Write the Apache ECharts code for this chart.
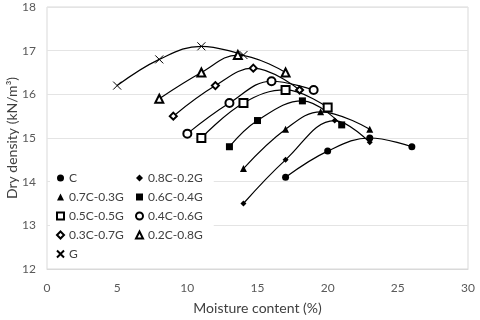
<!DOCTYPE html>
<html style="height:100%;width:100%;">
<head>
  <meta charset="utf-8">
  <title>Dry density vs moisture content</title>
  <script src="https://cdn.jsdelivr.net/npm/echarts@6/dist/echarts.min.js"></script>
</head>
<body style="margin:0px;height:100%;width:100%;">
  <div id="main" style="width:480px;height:320px"></div>
  <script type="text/javascript">
    // moisture content (%) and dry density (kN/m3), one pair of arrays per mix
    var names = ['C', '0.8C-0.2G', '0.7C-0.3G', '0.6C-0.4G', '0.5C-0.5G',
                 '0.4C-0.6G', '0.3C-0.7G', '0.2C-0.8G', 'G'];
    var xC = [17, 20, 23, 26],        yC = [14.1, 14.7, 15.0, 14.8];
    var x82 = [14, 17, 20.5, 23],     y82 = [13.5, 14.5, 15.4, 14.9];
    var x73 = [14, 17, 19.5, 23],     y73 = [14.3, 15.2, 15.6, 15.2];
    var x64 = [13, 15, 18.2, 21],     y64 = [14.8, 15.4, 15.85, 15.3];
    var x55 = [11, 14, 17, 20],       y55 = [15.0, 15.8, 16.1, 15.7];
    var x46 = [10, 13, 16, 19],       y46 = [15.1, 15.8, 16.3, 16.1];
    var x37 = [9, 12, 14.7, 18],      y37 = [15.5, 16.2, 16.6, 16.1];
    var x28 = [8, 11, 13.6, 17],      y28 = [15.9, 16.5, 16.9, 16.5];
    var xG = [5, 8, 11, 14],          yG = [16.2, 16.8, 17.1, 16.9];

    var xs = [xC, x82, x73, x64, x55, x46, x37, x28, xG];
    var ys = [yC, y82, y73, y64, y55, y46, y37, y28, yG];

    var cross = 'path://M0,0L10,10M10,0L0,10';
    var symbols = ['circle', 'diamond', 'triangle', 'rect', 'emptyRect',
                   'emptyCircle', 'emptyDiamond', 'emptyTriangle', cross];
    var sizes = [7, 6, 7, 7, 8, 8, 7, 8, 8];
    var filled = [true, true, true, true, false, false, false, false, false];

    function pairs(a, b) {
      var res = [];
      for (var i = 0; i < a.length; i++) res.push([a[i], b[i]]);
      return res;
    }

    var series = [];
    for (var i = 0; i < names.length; i++) {
      series.push({
        name: names[i],
        type: 'line',
        smooth: 0.4,
        symbol: symbols[i],
        symbolSize: sizes[i],
        showAllSymbol: true,
        lineStyle: { color: '#000', width: 1.2 },
        itemStyle: {
          color: '#000',
          borderColor: '#000',
          borderWidth: filled[i] ? 0 : 1
        },
        emphasis: { disabled: true },
        data: pairs(xs[i], ys[i])
      });
    }

    var fontFamily = 'Lato';
    var legendText = { color: '#404040', fontSize: 12, fontFamily: fontFamily };

    function legendData(list) {
      return list.map(function (n) {
        return { name: n, icon: symbols[names.indexOf(n)] };
      });
    }

    var myChart = echarts.init(document.getElementById('main'));
    var option = {
      animation: false,
      backgroundColor: '#fff',
      grid: {
        left: 47, right: 12, top: 7, bottom: 51,
        outerBoundsMode: 'none',
        show: true, borderColor: '#d9d9d9', borderWidth: 1
      },
      legend: [{
        orient: 'vertical',
        left: 50, top: 168,
        padding: [4, 90, 3, 6],
        backgroundColor: '#fff',
        itemWidth: 7, itemHeight: 7, itemGap: 7,
        textStyle: legendText,
        data: legendData(['C', '0.7C-0.3G', '0.5C-0.5G', '0.3C-0.7G', 'G'])
      }, {
        orient: 'vertical',
        left: 131, top: 168,
        padding: [4, 4, 3, 4],
        z: 5,
        itemWidth: 7, itemHeight: 7, itemGap: 7,
        textStyle: legendText,
        data: legendData(['0.8C-0.2G', '0.6C-0.4G', '0.4C-0.6G', '0.2C-0.8G'])
      }],
      xAxis: {
        type: 'value',
        min: 0, max: 30, interval: 5,
        name: 'Moisture content (%)',
        nameLocation: 'middle',
        nameGap: 32,
        nameMoveOverlap: false,
        nameTextStyle: { color: '#404040', fontSize: 14, fontFamily: fontFamily },
        axisLine: { show: true, lineStyle: { color: '#d9d9d9' } },
        axisTick: { show: false },
        axisLabel: { color: '#595959', fontSize: 12, fontFamily: fontFamily, margin: 13 },
        splitLine: { show: false }
      },
      yAxis: {
        type: 'value',
        min: 12, max: 18, interval: 1,
        name: 'Dry density (kN/m³)',
        nameLocation: 'middle',
        nameGap: 28,
        nameMoveOverlap: false,
        nameTextStyle: { color: '#404040', fontSize: 14, fontFamily: fontFamily },
        axisLine: { show: false },
        axisTick: { show: false },
        axisLabel: { color: '#595959', fontSize: 12, fontFamily: fontFamily, margin: 11 },
        splitLine: { show: true, lineStyle: { color: '#e4e4e4' } }
      },
      series: series
    };

    myChart.setOption(option);
  </script>
</body>
</html>
